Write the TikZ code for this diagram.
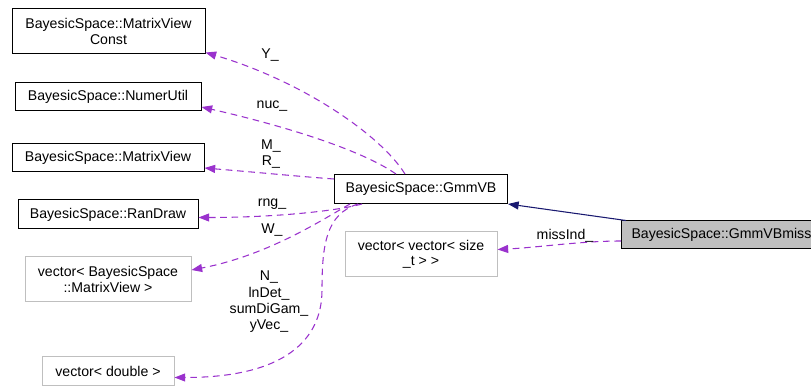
\documentclass[tikz,border=0pt]{standalone}
\usepackage{fontspec}
\setmainfont{Liberation Sans}
\usetikzlibrary{arrows.meta,calc}
\definecolor{relpurple}{HTML}{9A32CD}
\definecolor{inhnavy}{HTML}{191970}
\definecolor{boxgrey}{HTML}{BFBFBF}
\tikzset{
  cls/.style={draw=black, line width=0.75pt, inner sep=0pt, align=center,
    font=\fontsize{10.6}{11.5}\selectfont},
  ext/.style={cls, draw=boxgrey},
  cur/.style={cls, fill=boxgrey},
  member/.style={draw=relpurple, line width=0.8pt, dash pattern=on 5pt off 3.5pt,
    -{Triangle[length=8pt,width=6pt,fill=relpurple]}},
  inherit/.style={draw=inhnavy, line width=0.8pt,
    -{Triangle[length=8pt,width=6pt,fill=inhnavy]}},
  lbl/.style={align=center, inner sep=0pt, font=\fontsize{10.6}{12.2}\selectfont}
}
\begin{document}
\begin{tikzpicture}[x=0.75pt, y=-0.75pt]
\useasboundingbox (0,0) rectangle (811,388);
% referenced classes
\node[cls, minimum width=144.75pt, minimum height=33.75pt] (mvc) at (108.5,31.5)
  {BayesicSpace::MatrixView\\Const};
\node[cls, minimum width=139.5pt, minimum height=21pt] (nu) at (108,97)
  {BayesicSpace::NumerUtil};
\node[cls, minimum width=144pt, minimum height=21pt] (mv) at (108,158)
  {BayesicSpace::MatrixView};
\node[cls, minimum width=135pt, minimum height=21.75pt] (rd) at (108,214.5)
  {BayesicSpace::RanDraw};
\node[ext, minimum width=124.5pt, minimum height=33.75pt] (vmv) at (108,279.5)
  {vector< BayesicSpace\\::MatrixView >};
\node[ext, minimum width=99pt, minimum height=21.75pt] (vd) at (108,371.5)
  {vector< double >};
% base class, member vector and the documented class
\node[cls, minimum width=129.75pt, minimum height=21.75pt] (gmm) at (421,189)
  {BayesicSpace::GmmVB};
\node[ext, minimum width=114pt, minimum height=33.75pt] (vvs) at (421,254.5)
  {vector< vector< size\\\_t > >};
\node[cur, inner xsep=7.5pt, minimum height=21pt, anchor=west]
  (gmmm) at (621,235) {BayesicSpace::GmmVBmiss};
\coordinate (nmid) at (322,290);

% inheritance
\draw[inherit] ($(gmmm.north west)+(5,0)$) -- (gmm.south east);
% member relations
\draw[member] ($(gmmm.west)+(0,6)$) .. controls +(-40,0) and +(40,-2) .. ($(vvs.east)+(0,-5)$);
\draw[member] ($(gmm.north)+(-16,0)$) .. controls +(-25,-40) and +(95,28) .. ($(mvc.south east)+(0,-2)$);
\draw[member] ($(gmm.north)+(-25,0)$) .. controls +(-36,-25) and +(79,18) .. ($(nu.east)+(0,10)$);
\draw[member] ($(gmm.north west)+(0,5)$) .. controls +(-40,-3) and +(60,5) .. ($(mv.east)+(0,10)$);
\draw[member] ($(gmm.south)+(-59,0)$) .. controls +(-30,8) and +(70,0) .. ($(rd.east)+(0,3)$);
\draw[member] ($(gmm.south)+(-71,0)$) .. controls +(-25,14) and +(78,-15) .. ($(vmv.east)+(0,-9.5)$);
\draw[member] ($(gmm.south)+(-63,0)$) .. controls +(-32,10) and +(0,-45) .. (nmid)
  .. controls +(0,50) and +(110,0) .. ($(vd.east)+(0,6)$);

% edge labels
\node[lbl] (ly) at (270,55) {Y\_};
\node[lbl] (lnuc) at (272,106) {nuc\_};
\node[lbl] (lmr) at (271,154) {M\_\\R\_};
\node[lbl] (lrng) at (272,204) {rng\_};
\node[lbl] (lw) at (272,230) {W\_};
\node[lbl] (ln) at (269,302) {N\_\\lnDet\_\\sumDiGam\_\\yVec\_};
\node[lbl] (lmiss) at (565,236) {missInd\_};
\end{tikzpicture}
\end{document}
